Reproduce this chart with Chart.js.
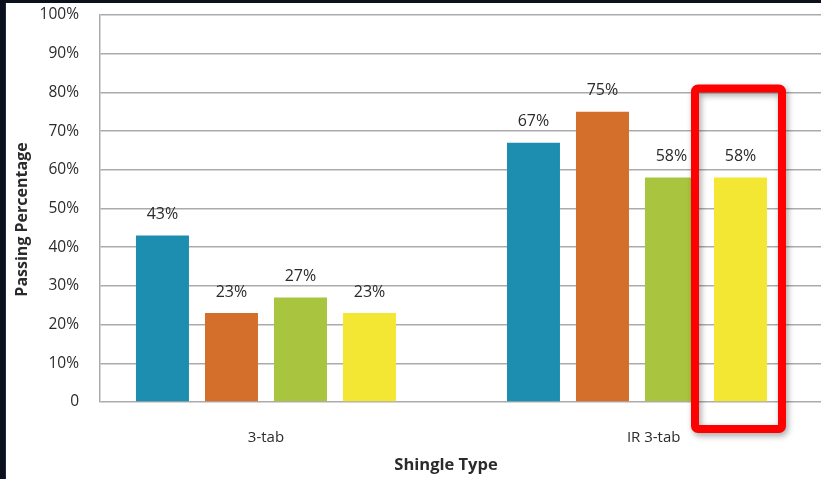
<!DOCTYPE html>
<html>
<head>
<meta charset="utf-8">
<script src="https://cdn.jsdelivr.net/npm/chart.js@4/dist/chart.umd.min.js"></script>
<style>
  html, body { margin: 0; padding: 0; background: #0a111d; overflow: hidden; }
  #frame { position: absolute; left: 6px; top: 3px; width: 815px; height: 476px; background: #ffffff; box-shadow: -1px 0 0 #1b2a42; }
  canvas { display: block; }
</style>
</head>
<body>
<div id="frame"><canvas id="chart" width="815" height="476"></canvas></div>
<script>
// Shingle types along the x axis
const categories = ['3-tab', 'IR 3-tab'];

// Passing percentage for each series, one value per shingle type
const seriesBlue   = [43, 67];
const seriesOrange = [23, 75];
const seriesGreen  = [27, 58];
const seriesYellow = [23, 58];

// Y axis range and step (percent)
const yMin = 0;
const yMax = 100;
const yStep = 10;

const seriesColors = ['#1d8eb0', '#d46f2b', '#a9c540', '#f4e733'];
const seriesList = [seriesBlue, seriesOrange, seriesGreen, seriesYellow];

// Category labels sit slightly wider apart than the bar groups
const labelSpread = 1.045;

const TEXT = '#2b2b2b';
const FONT = "'Open Sans', 'DejaVu Sans', sans-serif";

// Percent labels above each bar
const valueLabels = {
  id: 'valueLabels',
  afterDatasetsDraw(chart) {
    const ctx = chart.ctx;
    ctx.save();
    ctx.font = `16px ${FONT}`;
    ctx.fillStyle = TEXT;
    ctx.textAlign = 'center';
    ctx.textBaseline = 'middle';
    chart.data.datasets.forEach((ds, di) => {
      chart.getDatasetMeta(di).data.forEach((bar, i) => {
        ctx.fillText(ds.data[i].y + '%', bar.x, bar.y - 21);
      });
    });
    ctx.restore();
  }
};

// Red highlight frame around the yellow IR 3-tab bar
const highlight = {
  id: 'highlight',
  afterDatasetsDraw(chart) {
    const bar = chart.getDatasetMeta(3).data[1];
    const yScale = chart.scales.y;
    const area = chart.chartArea;
    const left = bar.x - bar.width / 2 - 19;
    const right = bar.x + bar.width / 2 + 15;
    const top = yScale.getPixelForValue(81);
    const bottom = area.bottom + 27;
    const ctx = chart.ctx;
    ctx.save();
    ctx.shadowColor = 'rgba(0,0,0,0.35)';
    ctx.shadowBlur = 6;
    ctx.shadowOffsetX = 2;
    ctx.shadowOffsetY = 3;
    ctx.strokeStyle = '#ff0000';
    ctx.lineWidth = 8;
    ctx.lineJoin = 'round';
    ctx.beginPath();
    ctx.roundRect(left, top, right - left, bottom - top, 3);
    ctx.stroke();
    ctx.restore();
  }
};

// Axis titles
const axisTitles = {
  id: 'axisTitles',
  afterDraw(chart) {
    const ctx = chart.ctx;
    const area = chart.chartArea;
    ctx.save();
    ctx.fillStyle = TEXT;
    ctx.textAlign = 'center';
    ctx.textBaseline = 'middle';
    ctx.font = `bold 16.5px ${FONT}`;
    ctx.fillText('Shingle Type', area.left + 346, area.bottom + 63);
    ctx.translate(area.left - 78, (area.top + area.bottom) / 2 + 11);
    ctx.rotate(-Math.PI / 2);
    ctx.font = `bold 16px ${FONT}`;
    ctx.fillText('Passing Percentage', 0, 0);
    ctx.restore();
  }
};

new Chart(document.getElementById('chart'), {
  type: 'bar',
  data: {
    datasets: seriesList.map((values, si) => ({
      label: 'Series ' + (si + 1),
      data: values.map((v, i) => ({ x: i, y: v })),
      backgroundColor: seriesColors[si],
      borderWidth: 0,
      categoryPercentage: 0.744,
      barPercentage: 0.768
    }))
  },
  options: {
    responsive: false,
    animation: false,
    devicePixelRatio: 1,
    layout: { padding: { top: 12, left: 0, right: 0, bottom: 0 } },
    plugins: {
      legend: { display: false },
      tooltip: { enabled: false }
    },
    scales: {
      x: {
        type: 'linear',
        offset: false,
        min: -0.4474,
        max: 1.496,
        grid: { display: false },
        border: { display: false },
        ticks: {
          padding: 19,
          color: TEXT,
          font: { family: FONT, size: 15 },
          callback: (v, i) => categories[i]
        },
        afterBuildTicks: (s) => {
          s.ticks = categories.map((c, i) => ({ value: i * labelSpread }));
        },
        afterFit: (s) => { s.height = 77; }
      },
      y: {
        min: yMin,
        max: yMax,
        grid: { color: '#ababab', lineWidth: 1.5, drawTicks: false },
        border: { display: true, color: '#ababab', width: 1.5 },
        ticks: {
          stepSize: yStep,
          padding: 21,
          color: TEXT,
          font: { family: FONT, size: 15.5 },
          callback: (v) => v === 0 ? '0' : v + '%'
        },
        afterFit: (s) => { s.width = 94; s.paddingTop = 0; s.paddingBottom = 0; }
      }
    }
  },
  plugins: [valueLabels, highlight, axisTitles]
});
</script>
</body>
</html>
